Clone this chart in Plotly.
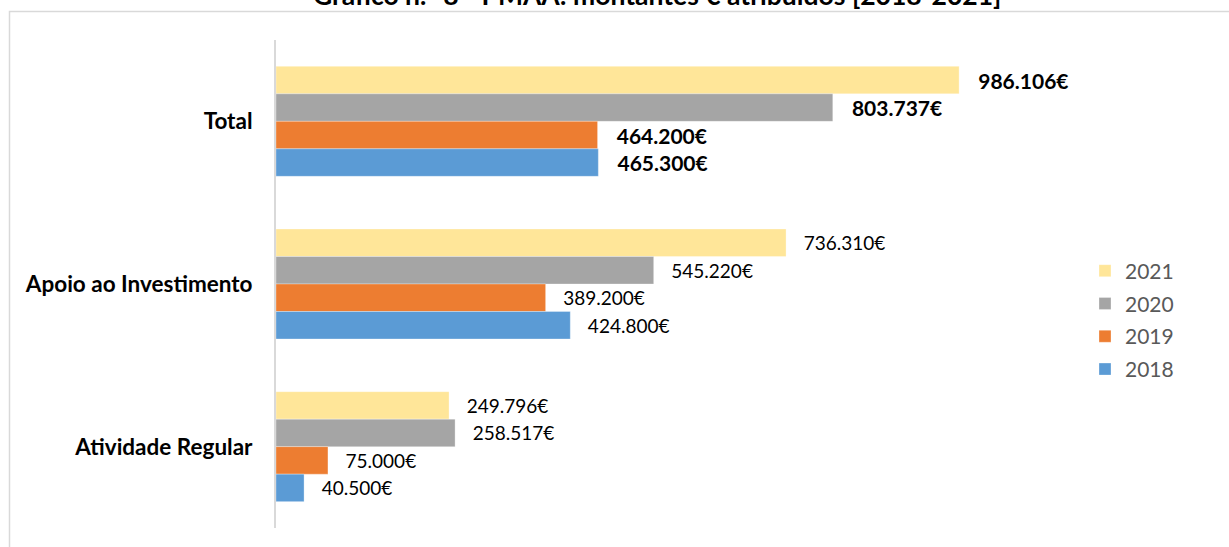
import plotly.graph_objects as go

# PMAA amounts awarded per programme line, 2018-2021 (euros)
categories = ["Total", "Apoio ao Investimento", "Atividade Regular"]
years = ["2021", "2020", "2019", "2018"]
values_2021 = [986106, 736310, 249796]
values_2020 = [803737, 545220, 258517]
values_2019 = [464200, 389200, 75000]
values_2018 = [465300, 424800, 40500]

series = {
    "2021": values_2021,
    "2020": values_2020,
    "2019": values_2019,
    "2018": values_2018,
}
colors = {
    "2021": "#FFE699",
    "2020": "#A5A5A5",
    "2019": "#ED7D31",
    "2018": "#5B9BD5",
}

FONT = "Lato, 'Open Sans', sans-serif"
PAD = "\u00a0\u00a0\u00a0"


def euro(v):
    return f"{v:,}".replace(",", ".") + "€"


def label(cat, v):
    txt = euro(v)
    return PAD + (f"<b>{txt}</b>" if cat == "Total" else txt)


fig = go.Figure()
for yr in years:
    vals = series[yr]
    fig.add_trace(go.Bar(
        name=yr,
        y=categories,
        x=vals,
        orientation="h",
        marker=dict(color=colors[yr], line=dict(color="rgba(255,255,255,0.6)", width=0.5)),
        text=[label(c, v) for c, v in zip(categories, vals)],
        textposition="outside",
        textfont=dict(family=FONT, color="#000000",
                      size=[21 if c == "Total" else 19 for c in categories]),
        constraintext="none",
        cliponaxis=False,
        legendgroup=yr,
        hoverinfo="skip",
    ))

L, R, T, B = 276, 191, 40, 19
W, H = 1229, 547
pw, ph = W - L - R, H - T - B


def px_x(p):
    return (p - L) / pw


def px_y(p):
    return (H - B - p) / ph


fig.update_layout(
    width=W, height=H,
    margin=dict(l=L, r=R, t=T, b=B),
    paper_bgcolor="white",
    plot_bgcolor="white",
    barmode="group",
    bargap=0.324,
    bargroupgap=0,
    font=dict(family=FONT, color="#000000"),
    showlegend=True,
    legend=dict(
        x=px_x(1085), xanchor="left",
        y=px_y(320), yanchor="middle",
        font=dict(family=FONT, size=21, color="#595959"),
        traceorder="grouped",
        tracegroupgap=2.5,
        bgcolor="rgba(0,0,0,0)",
    ),
    xaxis=dict(
        range=[0, 1100000],
        showgrid=False, zeroline=False, showline=False,
        showticklabels=False, ticks="", fixedrange=True,
    ),
    yaxis=dict(
        categoryorder="array",
        categoryarray=categories,
        autorange="reversed",
        showgrid=False, zeroline=False,
        showline=True, linecolor="#D9D9D9", linewidth=2,
        ticks="", ticklabelstandoff=17,
        tickfont=dict(family=FONT, size=22.5, color="#000000", weight="bold"),
        fixedrange=True,
    ),
    shapes=[
        dict(type="rect", xref="paper", yref="paper",
             x0=px_x(9.5), x1=px_x(1300), y0=px_y(600), y1=px_y(11.5),
             line=dict(color="#D9D9D9", width=1.5), fillcolor="rgba(0,0,0,0)",
             layer="below"),
    ],
    annotations=[
        dict(text="<b>Gráfico n.º 8 - PMAA: montantes € atribuídos [2018-2021]</b>",
             xref="paper", yref="paper", x=px_x(657), y=px_y(-4.5),
             xanchor="center", yanchor="middle", showarrow=False,
             font=dict(family=FONT, size=26.5, color="#000000")),
    ],
)

fig.write_html("out.html")
